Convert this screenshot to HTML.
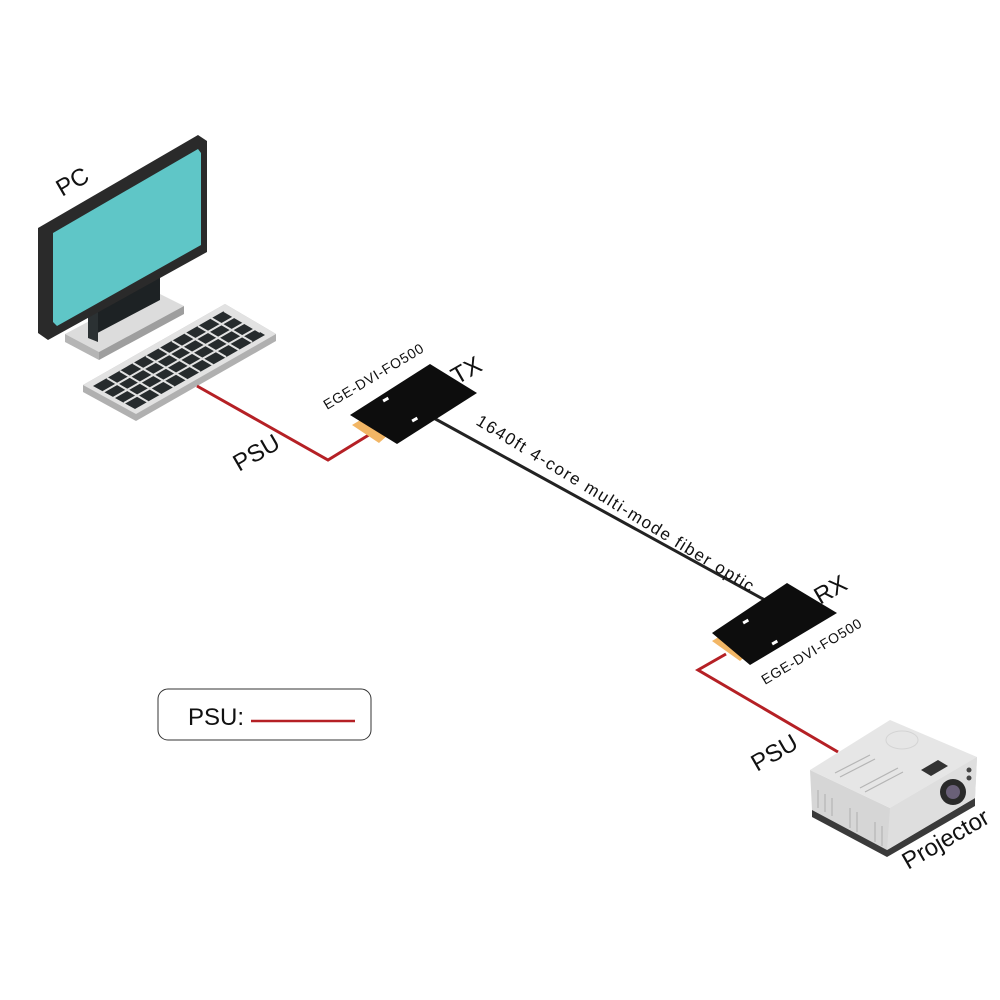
<!DOCTYPE html>
<html><head><meta charset="utf-8"><style>
html,body{margin:0;padding:0;background:#fff;}
svg{display:block;}
text{font-family:"Liberation Sans",sans-serif;fill:#111;}
</style></head><body>
<svg width="1000" height="1000" viewBox="0 0 1000 1000" xmlns="http://www.w3.org/2000/svg">
<polygon points="65,334 150,289 184,306 99,352" fill="#dcdcdc"/>
<polygon points="65,334 99,352 99,360 65,342" fill="#b5b5b5"/>
<polygon points="99,352 184,306 184,314 99,360" fill="#9e9e9e"/>
<polygon points="88,300 160,262 160,300 88,338" fill="#1d2224"/>
<polygon points="88,300 98,305 98,342 88,338" fill="#2b3133"/>
<polygon points="38,228 198,135 207,141 207,252 48,340 38,333" fill="#2a2a2a"/>
<polygon points="53,233 198,149 201,153 201,245 57,326 53,322" fill="#5fc6c7"/>
<polygon points="83,385 225,304 276,334 276,341 136,421 83,392" fill="#b0b0b0"/>
<polygon points="83,385 225,304 276,334 136,414" fill="#e2e2e2"/>
<polygon points="93,386 224,311 265,335 135,409" fill="#262b2d"/>
<g stroke="#e2e2e2" stroke-width="2">
<line x1="103" y1="392" x2="234" y2="317"/>
<line x1="113" y1="398" x2="244" y2="323"/>
<line x1="124" y1="403" x2="255" y2="329"/>
<line x1="107" y1="378" x2="148" y2="402"/>
<line x1="120" y1="371" x2="161" y2="395"/>
<line x1="133" y1="363" x2="174" y2="387"/>
<line x1="146" y1="356" x2="187" y2="380"/>
<line x1="159" y1="348" x2="200" y2="372"/>
<line x1="172" y1="341" x2="213" y2="365"/>
<line x1="185" y1="333" x2="226" y2="357"/>
<line x1="198" y1="326" x2="239" y2="350"/>
<line x1="211" y1="318" x2="252" y2="342"/>
<line x1="224" y1="311" x2="260" y2="332"/>
</g>
<polyline points="197,386 328,460 372,433" fill="none" stroke="#b52025" stroke-width="3"/>
<line x1="430" y1="416" x2="772" y2="604" stroke="#222" stroke-width="3"/>
<polygon points="352,425 362,419 389,434 379,443" fill="#f2b665"/>
<polygon points="350,415 430,364 477,393 397,444" fill="#0d0d0d"/>
<rect x="383" y="398" width="6" height="3" fill="#fff" transform="rotate(-30 386 400)"/>
<rect x="412" y="418" width="6" height="3" fill="#fff" transform="rotate(-30 415 420)"/>
<polygon points="712,641 722,635 750,652 740,661" fill="#f2b665"/>
<polygon points="712,633 787,583 837,613 750,665" fill="#0d0d0d"/>
<rect x="743" y="620" width="6" height="3" fill="#fff" transform="rotate(-30 746 622)"/>
<rect x="772" y="641" width="6" height="3" fill="#fff" transform="rotate(-30 775 643)"/>
<polyline points="726,654 698,670 838,752" fill="none" stroke="#b52025" stroke-width="3"/>
<polygon points="810,770 812,810 887,850 975,798 977,757 890,808" fill="#d6d6d6"/>
<polygon points="812,810 887,850 975,798 975,806 887,857 812,817" fill="#3a3a3a"/>
<polygon points="810,770 890,720 977,757 890,808" fill="#e6e6e6"/>
<polygon points="890,808 977,757 975,798 887,850" fill="#dedede"/>
<ellipse cx="902" cy="740" rx="16" ry="9" fill="none" stroke="#d4d4d4"/>
<polygon points="921,770 938,760 948,766 931,776" fill="#333"/>
<circle cx="953" cy="792" r="13" fill="#2a2a2a"/>
<circle cx="953" cy="792" r="7" fill="#6a6078"/>
<circle cx="969" cy="770" r="2.5" fill="#444"/>
<circle cx="969" cy="778" r="2.5" fill="#444"/>
<g stroke="#b5b5b5" stroke-width="1.2">
<line x1="818" y1="790" x2="818" y2="808"/><line x1="825" y1="794" x2="825" y2="812"/>
<line x1="832" y1="798" x2="832" y2="816"/><line x1="850" y1="808" x2="850" y2="828"/>
<line x1="857" y1="812" x2="857" y2="832"/><line x1="875" y1="822" x2="875" y2="842"/>
<line x1="882" y1="826" x2="882" y2="846"/>
<line x1="835" y1="773" x2="870" y2="755"/><line x1="840" y1="777" x2="875" y2="759"/>
<line x1="860" y1="788" x2="898" y2="768"/><line x1="865" y1="792" x2="903" y2="772"/>
</g>
<text font-size="24" transform="translate(62,197) rotate(-30)">PC</text>
<text font-size="24" transform="translate(457,385) rotate(-30)">TX</text>
<text font-size="24" transform="translate(820,605) rotate(-30)">RX</text>
<text font-size="14" textLength="114" transform="translate(327,410) rotate(-31)">EGE-DVI-FO500</text>
<text font-size="14" textLength="114" transform="translate(765,685) rotate(-31)">EGE-DVI-FO500</text>
<text font-size="17" textLength="322" transform="translate(475,424) rotate(31.5)">1640ft 4-core multi-mode fiber optic</text>
<text font-size="24" transform="translate(239,472) rotate(-30)">PSU</text>
<text font-size="24" transform="translate(757,772) rotate(-30)">PSU</text>
<text font-size="24" transform="translate(908,870) rotate(-30)">Projector</text>
<rect x="158" y="689" width="213" height="51" rx="10" fill="#fff" stroke="#333" stroke-width="1"/>
<text x="188" y="725" font-size="24">PSU:</text>
<line x1="251" y1="721" x2="355" y2="721" stroke="#b52025" stroke-width="2.5"/>
</svg>
</body></html>
